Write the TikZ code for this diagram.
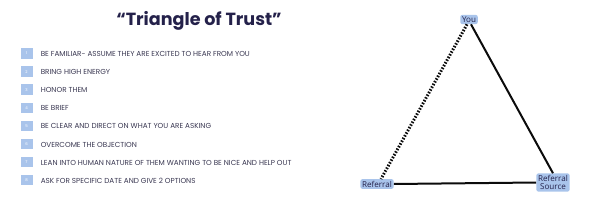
\documentclass[tikz,border=0pt]{standalone}
\usepackage{fontspec}
\setmainfont{Poppins}
\newfontfamily\labelfont{Open Sans}
\usetikzlibrary{calc}
\definecolor{ink}{HTML}{24214A}
\definecolor{listink}{HTML}{3A3852}
\definecolor{chipfill}{HTML}{A9C4EB}
\definecolor{edge}{HTML}{0B0B0B}

\begin{document}
\begin{tikzpicture}[
  x=0.5mm, y=-0.5mm,
  chip/.style={fill=chipfill, minimum width=12*0.5mm, minimum height=10.5*0.5mm, inner sep=0pt, text=white, font=\fontsize{5.5}{6}\selectfont},
  item/.style={anchor=west, inner sep=0pt, text=listink, font=\fontsize{10.3}{11}\selectfont},
  corner/.style={fill=chipfill, rounded corners=3pt, inner sep=2.5pt, align=center, text=ink, font=\labelfont\fontsize{11.5}{13}\selectfont},
  side/.style={draw=edge, line width=2*0.5mm}
]
\useasboundingbox (0,0) rectangle (600,200);

% Title
\node[text=ink, font=\bfseries\fontsize{25}{27}\selectfont] (title) at (199,21) {“Triangle of Trust”};

% Numbered list
\foreach \n/\txt in {1/BE FAMILIAR- ASSUME THEY ARE EXCITED TO HEAR FROM YOU,
                     2/BRING HIGH ENERGY,
                     3/HONOR THEM,
                     4/BE BRIEF,
                     5/BE CLEAR AND DIRECT ON WHAT YOU ARE ASKING,
                     6/OVERCOME THE OBJECTION,
                     7/LEAN INTO HUMAN NATURE OF THEM WANTING TO BE NICE AND HELP OUT,
                     8/ASK FOR SPECIFIC DATE AND GIVE 2 OPTIONS} {
  \node[chip] (chip\n) at (26.5,{53.5+(\n-1)*18.1}) {\n};
  \node[item] (item\n) at ($(chip\n.east)+(8,0.5)$) {\txt};
}

% Triangle corners
\node[corner] (you) at (469,19.5) {You};
\node[corner] (referral) at (377,184) {Referral};
\node[corner] (source) at (553,182.5) {Referral\\[-1pt]Source};

% Sides
\draw[side, line width=3*0.5mm, dash pattern=on 2.2pt off 2.2pt] ($(you.south)+(-2,0)$) -- ($(referral.north)+(4,0)$);
\draw[side] ($(you.south)+(2,0)$) -- (source.north);
\draw[side] (referral.east) -- (source.west);

\end{tikzpicture}
\end{document}
